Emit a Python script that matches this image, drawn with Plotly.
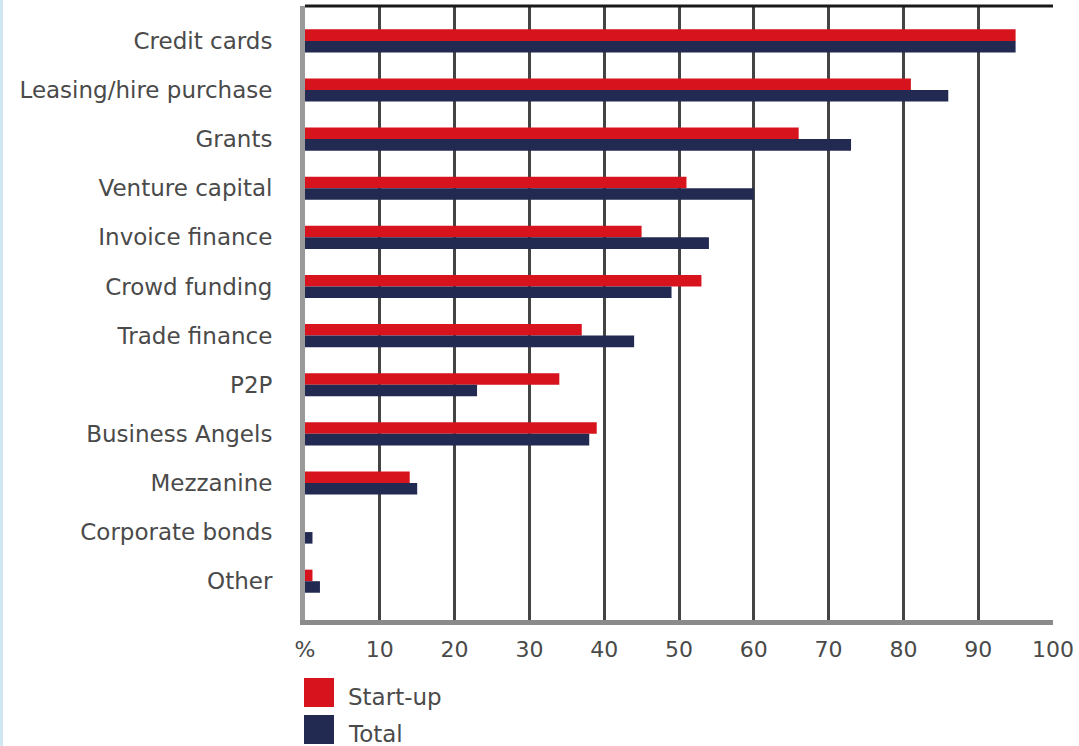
import plotly.graph_objects as go

# Share of firms aware of each finance source (%)
categories = [
    "Credit cards", "Leasing/hire purchase", "Grants", "Venture capital",
    "Invoice finance", "Crowd funding", "Trade finance", "P2P",
    "Business Angels", "Mezzanine", "Corporate bonds", "Other",
]
startup = [95, 81, 66, 51, 45, 53, 37, 34, 39, 14, 0, 1]
total = [95, 86, 73, 60, 54, 49, 44, 23, 38, 15, 1, 2]
x_ticks = [0, 10, 20, 30, 40, 50, 60, 70, 80, 90, 100]
x_tick_labels = ["%", "10", "20", "30", "40", "50", "60", "70", "80", "90", "100"]

RED = "#d7141e"
NAVY = "#222a52"
TEXT = "#4a4a4a"
FONT = "DejaVu Sans"
FSIZE = 23
TICKSIZE = 22

W, H = 1079, 746
ML, MR, MT, MB = 305, 26, 6, 126
PW, PH = W - ML - MR, H - MT - MB


def px_x(px):
    return (px - ML) / PW


def px_y(py):
    return (H - MB - py) / PH


fig = go.Figure()
fig.add_trace(go.Bar(y=categories, x=startup, orientation="h", name="Start-up",
                     marker=dict(color=RED, line=dict(width=0))))
fig.add_trace(go.Bar(y=categories, x=total, orientation="h", name="Total",
                     marker=dict(color=NAVY, line=dict(width=0))))

shapes = [
    # top border
    dict(type="line", xref="paper", yref="paper", x0=0, x1=1, y0=1, y1=1,
         line=dict(color="#1a1a1a", width=3)),
    # thin blue stripe on the far left
    dict(type="rect", xref="paper", yref="paper", x0=px_x(0), x1=px_x(3),
         y0=px_y(746), y1=px_y(0), fillcolor="#cfe6f3", line=dict(width=0)),
    # legend swatches
    dict(type="rect", xref="paper", yref="paper", x0=px_x(304), x1=px_x(334),
         y0=px_y(707), y1=px_y(678), fillcolor=RED, line=dict(width=0)),
    dict(type="rect", xref="paper", yref="paper", x0=px_x(304), x1=px_x(334),
         y0=px_y(744), y1=px_y(715), fillcolor=NAVY, line=dict(width=0)),
]

annotations = [
    dict(xref="paper", yref="paper", x=px_x(346), y=px_y(697), text="Start-up",
         showarrow=False, xanchor="left", yanchor="middle",
         font=dict(family=FONT, size=FSIZE, color=TEXT)),
    dict(xref="paper", yref="paper", x=px_x(346), y=px_y(734), text="Total",
         showarrow=False, xanchor="left", yanchor="middle",
         font=dict(family=FONT, size=FSIZE, color=TEXT)),
]

fig.update_layout(
    width=W, height=H,
    margin=dict(l=ML, r=MR, t=MT, b=MB),
    paper_bgcolor="white", plot_bgcolor="white",
    barmode="group", bargap=0.53, bargroupgap=0,
    showlegend=False,
    shapes=shapes, annotations=annotations,
    font=dict(family=FONT, size=FSIZE, color=TEXT),
)
fig.update_xaxes(
    range=[0, 100], tickvals=x_ticks, ticktext=x_tick_labels,
    showgrid=True, gridcolor="#444444", gridwidth=2.5,
    zeroline=False, showline=True, linecolor="#8a8a8a", linewidth=5,
    ticks="", ticklabelstandoff=6,
    tickfont=dict(family=FONT, size=TICKSIZE, color=TEXT),
)
fig.update_yaxes(
    type="category", categoryorder="array", categoryarray=categories,
    range=[11.79, -0.71],
    showgrid=False, zeroline=False, showline=True, linecolor="#9a9a9a",
    linewidth=5, ticks="", ticklabelstandoff=23,
    tickfont=dict(family=FONT, size=FSIZE, color=TEXT),
)

fig.write_html("out.html")
